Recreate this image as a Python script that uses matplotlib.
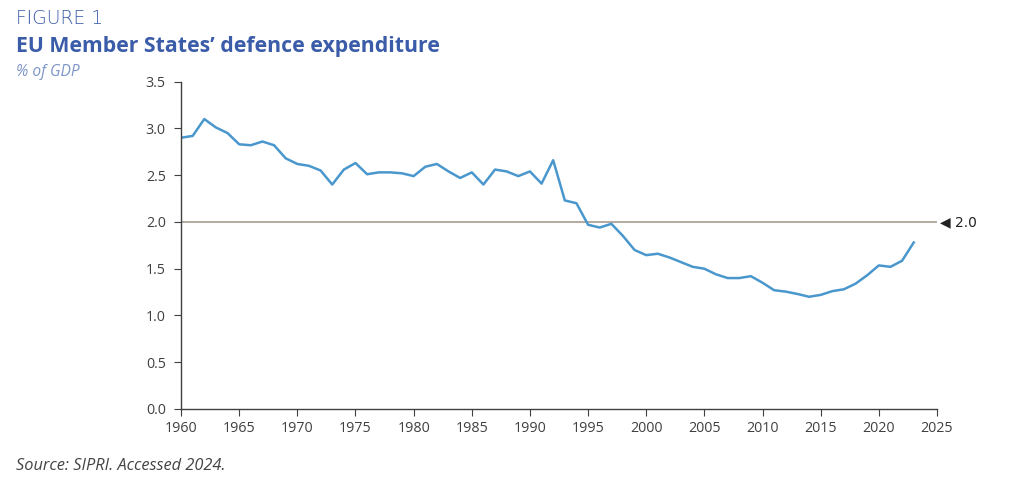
import matplotlib
matplotlib.use("Agg")
import matplotlib.pyplot as plt

years = list(range(1960, 2024))
gdp_share = [2.90, 2.92, 3.10, 3.01, 2.95, 2.83, 2.82, 2.86, 2.82, 2.68,
             2.62, 2.60, 2.55, 2.40, 2.56, 2.63, 2.51, 2.53, 2.53, 2.52,
             2.49, 2.59, 2.62, 2.54, 2.47, 2.53, 2.40, 2.56, 2.54, 2.49,
             2.54, 2.41, 2.66, 2.23, 2.20, 1.97, 1.94, 1.98, 1.85, 1.70,
             1.645, 1.66, 1.62, 1.57, 1.52, 1.50, 1.44, 1.40, 1.40, 1.42,
             1.35, 1.27, 1.255, 1.23, 1.20, 1.22, 1.26, 1.28, 1.34, 1.43,
             1.535, 1.52, 1.585, 1.78]
target = 2.0
x_ticks = list(range(1960, 2026, 5))
y_ticks = [0.0, 0.5, 1.0, 1.5, 2.0, 2.5, 3.0, 3.5]

blue_title = "#3b5ca8"
line_col = "#4a97cd"
ref_col = "#a89c8f"
axis_col = "#404040"
txt_col = "#404040"

plt.rcParams['font.family'] = ['Open Sans', 'DejaVu Sans']

fig = plt.figure(figsize=(10.24, 5.04), dpi=100)
ax = fig.add_axes([0.1768, 0.1885, 0.915 - 0.1768, 0.838 - 0.1885])

ax.axhline(target, color=ref_col, lw=1.2, zorder=1)
ax.plot(years, gdp_share, color=line_col, lw=1.8, zorder=2)

ax.set_xlim(1960, 2025)
ax.set_ylim(0, 3.5)
ax.set_xticks(x_ticks)
ax.set_yticks(y_ticks)
ax.set_yticklabels([f"{v:.1f}" for v in y_ticks])
for s in ["top", "right"]:
    ax.spines[s].set_visible(False)
for s in ["left", "bottom"]:
    ax.spines[s].set_color(axis_col)
    ax.spines[s].set_linewidth(1.0)
ax.tick_params(direction="out", length=5, width=0.8, color=axis_col,
               labelcolor=txt_col, labelsize=10.3)
ax.tick_params(axis="x", pad=4)
ax.tick_params(axis="y", pad=6)

ax.annotate("\u25c0 " + f"{target:.1f}", xy=(1.0, target), xycoords=("axes fraction", "data"),
            xytext=(2, 0), textcoords="offset points", va="center", ha="left",
            fontsize=10, color="#222222", family=['DejaVu Sans'])

fig.text(0.0156, 0.963, "FIGURE 1", fontsize=13.5, color=blue_title,
         fontweight="light", va="center", ha="left", family=['DejaVu Sans'])
fig.text(0.0156, 0.908, "EU Member States\u2019 defence expenditure", fontsize=15.3,
         color=blue_title, fontweight="bold", va="center", ha="left")
fig.text(0.0156, 0.857, "% of GDP", fontsize=11.2, color="#7d95c9",
         style="italic", va="center", ha="left")
fig.text(0.0156, 0.075, "Source: SIPRI. Accessed 2024.", fontsize=11.8,
         color="#444444", style="italic", va="center", ha="left")

fig.savefig("out.png", dpi=100, facecolor="white")
